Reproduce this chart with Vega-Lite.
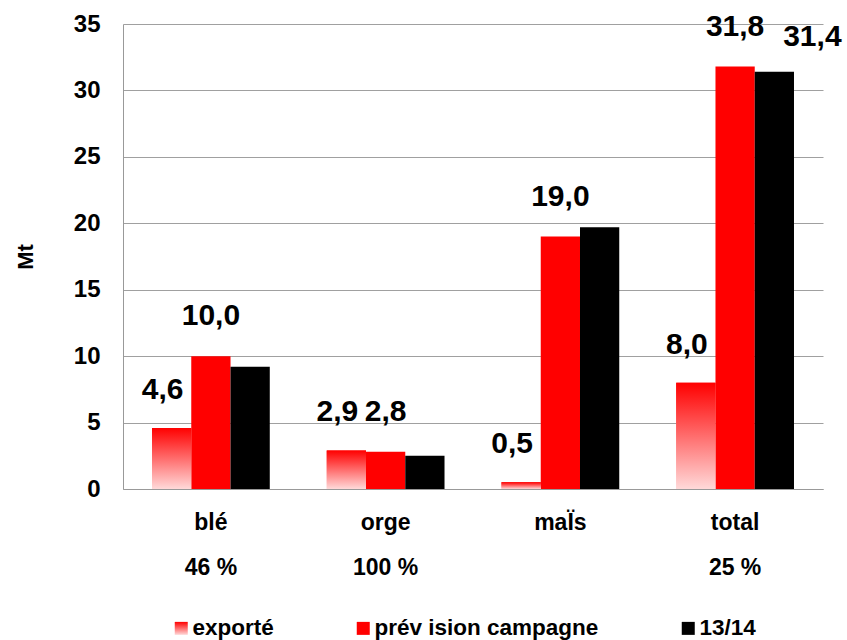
{
  "$schema": "https://vega.github.io/schema/vega-lite/v6.json",
  "width": 700,
  "height": 465,
  "autosize": "none",
  "padding": {"left": 123, "top": 24, "right": 24, "bottom": 151},
  "background": "#ffffff",
  "config": {
    "view": {"stroke": null},
    "font": "Liberation Sans",
    "locale": {"number": {"decimal": ",", "thousands": " ", "grouping": [3], "currency": ["", " €"]}}
  },
  "data": {
    "values": [
      {"cat": "blé", "series": "exporté", "value": 4.6},
      {"cat": "blé", "series": "prév ision campagne", "value": 10.0},
      {"cat": "blé", "series": "13/14", "value": 9.2},
      {"cat": "orge", "series": "exporté", "value": 2.9},
      {"cat": "orge", "series": "prév ision campagne", "value": 2.8},
      {"cat": "orge", "series": "13/14", "value": 2.5},
      {"cat": "maÏs", "series": "exporté", "value": 0.5},
      {"cat": "maÏs", "series": "prév ision campagne", "value": 19.0},
      {"cat": "maÏs", "series": "13/14", "value": 19.7},
      {"cat": "total", "series": "exporté", "value": 8.0},
      {"cat": "total", "series": "prév ision campagne", "value": 31.8},
      {"cat": "total", "series": "13/14", "value": 31.4}
    ]
  },
  "encoding": {
    "x": {
      "field": "cat",
      "type": "nominal",
      "sort": ["blé", "orge", "maÏs", "total"],
      "scale": {"paddingInner": 0.326, "paddingOuter": 0.166},
      "axis": {
        "title": null,
        "labelAngle": 0,
        "ticks": false,
        "tickSize": 0,
        "labelPadding": 22,
        "labelFontSize": 23,
        "labelFontWeight": "bold",
        "labelColor": "#000000",
        "labelBaseline": "top",
        "labelLineHeight": 45,
        "domainColor": "#999999",
        "labelExpr": "datum.value == 'blé' ? ['blé', '46 %'] : datum.value == 'orge' ? ['orge', '100 %'] : datum.value == 'total' ? ['total', '25 %'] : datum.value"
      }
    },
    "xOffset": {
      "field": "series",
      "type": "nominal",
      "scale": {"domain": ["exporté", "prév ision campagne", "13/14"]}
    },
    "y": {
      "field": "value",
      "type": "quantitative",
      "scale": {"domain": [0, 35], "nice": false},
      "axis": {
        "title": "Mt",
        "values": [0, 5, 10, 15, 20, 25, 30, 35],
        "format": "d",
        "ticks": false,
        "tickSize": 0,
        "labelPadding": 23,
        "labelFontSize": 24,
        "labelFontWeight": "bold",
        "labelColor": "#000000",
        "gridColor": "#a0a0a0",
        "domainColor": "#999999",
        "titleFontSize": 22,
        "titleFontWeight": "bold",
        "titleColor": "#000000",
        "titlePadding": 36
      }
    }
  },
  "layer": [
    {
      "mark": {"type": "bar"},
      "encoding": {
        "color": {
          "field": "series",
          "type": "nominal",
          "scale": {
            "domain": ["exporté", "prév ision campagne", "13/14"],
            "range": [
              {"expr": "{gradient: 'linear', x1: 0, y1: 0, x2: 0, y2: 1, stops: [{offset: 0, color: '#ff0000'}, {offset: 1, color: '#ffd9d9'}]}"},
              "#ff0000",
              "#000000"
            ]
          },
          "legend": {
            "title": null,
            "orient": "none",
            "legendX": 47,
            "legendY": 593,
            "direction": "horizontal",
            "symbolType": "square",
            "symbolSize": 169,
            "symbolStrokeWidth": 0,
            "labelFontSize": 22.5,
            "labelFontWeight": "bold",
            "labelColor": "#000000",
            "labelOffset": 0,
            "columnPadding": 78,
            "padding": 0,
            "labelLimit": 400
          }
        }
      }
    },
    {
      "transform": [{"filter": "datum.series == 'exporté'"}],
      "mark": {
        "type": "bar",
        "color": {"gradient": "linear", "x1": 0, "y1": 0, "x2": 0, "y2": 1, "stops": [{"offset": 0, "color": "#ff0000"}, {"offset": 1, "color": "#ffd9d9"}]}
      }
    },
    {
      "transform": [{"filter": "datum.series == 'exporté'"}],
      "mark": {"type": "text", "dx": -9, "dy": -38, "baseline": "middle", "align": "center", "fontSize": 30, "fontWeight": "bold", "color": "#000000"},
      "encoding": {"text": {"field": "value", "type": "quantitative", "format": ".1f"}}
    },
    {
      "transform": [{"filter": "datum.series == 'prév ision campagne'"}],
      "mark": {"type": "text", "dx": 0, "dy": -40, "baseline": "middle", "align": "center", "fontSize": 30, "fontWeight": "bold", "color": "#000000"},
      "encoding": {"text": {"field": "value", "type": "quantitative", "format": ".1f"}}
    },
    {
      "transform": [{"filter": "datum.series == '13/14' && datum.cat == 'total'"}],
      "mark": {"type": "text", "dx": 38, "dy": -35, "baseline": "middle", "align": "center", "fontSize": 30, "fontWeight": "bold", "color": "#000000"},
      "encoding": {"text": {"field": "value", "type": "quantitative", "format": ".1f"}}
    }
  ]
}
